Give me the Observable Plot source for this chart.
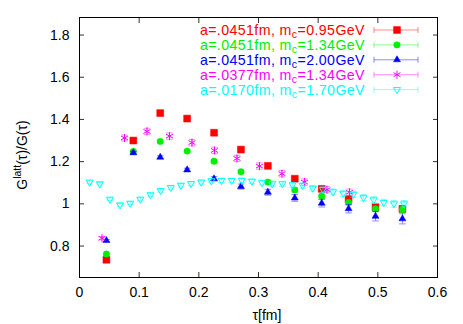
<!DOCTYPE html>
<html><head><meta charset="utf-8">
<script src="https://cdn.jsdelivr.net/npm/d3@7"></script>
<script src="https://cdn.jsdelivr.net/npm/@observablehq/plot@0.6"></script>
<style>html,body{margin:0;padding:0;background:#fff}svg{display:block}</style>
</head><body><div id="chart"></div>
<script>
// ---- data ----
const xTicks = [0, 0.1, 0.2, 0.3, 0.4, 0.5, 0.6];
const yTicks = [0.8, 1.0, 1.2, 1.4, 1.6, 1.8];
const xTickLabels = ["0", "0.1", "0.2", "0.3", "0.4", "0.5", "0.6"];
const yTickLabels = ["0.8", "1", "1.2", "1.4", "1.6", "1.8"];

const tau0451 = [0.0451,0.0902,0.1353,0.1804,0.2255,0.2706,0.3157,0.3608,0.4059,0.4510,0.4961,0.5412];
const ratioM095 = [0.735,1.300,1.430,1.404,1.337,1.257,1.180,1.119,1.071,1.022,0.984,0.976];
const errM095   = [0.004,0.005,0.006,0.006,0.007,0.008,0.009,0.010,0.011,0.012,0.013,0.014];
const ratioM134 = [0.762,1.248,1.296,1.250,1.202,1.152,1.103,1.066,1.036,1.006,0.976,0.973];
const errM134   = [0.004,0.005,0.006,0.006,0.007,0.008,0.009,0.010,0.011,0.012,0.013,0.014];
const ratioM200 = [0.826,1.242,1.221,1.161,1.119,1.082,1.055,1.028,1.003,0.977,0.941,0.929];
const errM200   = [0.005,0.006,0.007,0.008,0.010,0.012,0.014,0.016,0.018,0.020,0.022,0.024];

const tau0377 = [0.0377,0.0754,0.1131,0.1508,0.1885,0.2262,0.2639,0.3016,0.3393,0.3770,0.4147,0.4524];
const ratioA0377 = [0.837,1.312,1.343,1.321,1.290,1.253,1.215,1.179,1.143,1.103,1.067,1.055];
const errA0377   = [0.008,0.014,0.015,0.015,0.015,0.015,0.015,0.015,0.015,0.015,0.015,0.015];

const tau0170 = [0.017,0.034,0.051,0.068,0.085,0.102,0.119,0.136,0.153,0.170,0.187,0.204,0.221,0.238,0.255,0.272,
                 0.289,0.306,0.323,0.340,0.357,0.374,0.391,0.408,0.425,0.442,0.459,0.476,0.493,0.510,0.527,0.544];
const ratioA0170 = [1.103,1.095,1.022,0.995,1.003,1.022,1.043,1.063,1.077,1.088,1.096,1.103,1.109,1.111,1.111,1.111,
                    1.107,1.100,1.095,1.095,1.090,1.087,1.074,1.068,1.057,1.050,1.045,1.029,1.019,1.006,1.000,1.000];
const errA0170   = [0.006,0.006,0.006,0.007,0.007,0.007,0.008,0.008,0.008,0.009,0.009,0.009,0.010,0.010,0.010,0.011,
                    0.011,0.011,0.012,0.012,0.012,0.013,0.013,0.013,0.014,0.014,0.014,0.015,0.015,0.015,0.016,0.016];

const seriesNames = ["a=.0451fm, m", "a=.0451fm, m", "a=.0451fm, m", "a=.0377fm, m", "a=.0170fm, m"];
const seriesMasses = ["=0.95GeV", "=1.34GeV", "=2.00GeV", "=1.34GeV", "=1.70GeV"];
const seriesColors = ["#ff0000", "#00f000", "#0000ff", "#ff00ff", "#00ffff"];

// ---- build ----
const zip = (t, v, e) => t.map((x, i) => ({tau: x, v: v[i], e: e[i]}));
const series = [
  {data: zip(tau0451, ratioM095, errM095), symbol: "square", fill: true, r: 3.9, rotate: 0},
  {data: zip(tau0451, ratioM134, errM134), symbol: "circle", fill: true, r: 3.2, rotate: 0},
  {data: zip(tau0451, ratioM200, errM200), symbol: "triangle", fill: true, r: 2.6, rotate: 0},
  {data: zip(tau0377, ratioA0377, errA0377), symbol: "asterisk", fill: false, r: 3.8, rotate: 0},
  {data: zip(tau0170, ratioA0170, errA0170), symbol: "triangle", fill: false, r: 2.6, rotate: 180}
];
series.forEach((s, i) => s.color = seriesColors[i]);

const capSymbol = {draw(ctx, size) { const r = Math.sqrt(size / Math.PI); ctx.moveTo(-r, 0); ctx.lineTo(r, 0); }};

const marks = [];
for (const s of series) {
  marks.push(Plot.ruleX(s.data, {x: "tau", y1: d => d.v - d.e, y2: d => d.v + d.e, stroke: s.color, strokeOpacity: 0.45, strokeWidth: 1}));
  marks.push(Plot.dot(s.data, {x: "tau", y: d => d.v - d.e, symbol: capSymbol, r: 3.3, stroke: s.color, strokeOpacity: 0.45, strokeWidth: 1}));
  marks.push(Plot.dot(s.data, {x: "tau", y: d => d.v + d.e, symbol: capSymbol, r: 3.3, stroke: s.color, strokeOpacity: 0.45, strokeWidth: 1}));
  marks.push(Plot.dot(s.data, {x: "tau", y: "v", symbol: s.symbol, r: s.r, rotate: s.rotate,
    fill: s.fill ? s.color : "none", stroke: s.color, strokeWidth: s.fill ? 0.5 : 1}));
}

const chart = Plot.plot({
  width: 463, height: 324,
  marginLeft: 79, marginRight: 26, marginTop: 17, marginBottom: 47,
  style: {fontFamily: "'Liberation Sans', Arial, sans-serif", fontSize: "14px", background: "#fff", color: "#000"},
  x: {domain: [0, 0.6], ticks: xTicks},
  y: {domain: [0.651, 1.883], ticks: yTicks},
  marks: [
    Plot.axisX({anchor: "bottom", ticks: xTicks, tickSize: 0, tickPadding: 10, tickFormat: (d, i) => xTickLabels[i], label: null, fontSize: 14}),
    Plot.axisX({anchor: "bottom", ticks: xTicks, tickSize: -5, tickFormat: () => "", label: null, stroke: "#333"}),
    Plot.axisX({anchor: "top", ticks: xTicks, tickSize: -5, tickFormat: () => "", label: null, stroke: "#333"}),
    Plot.axisY({anchor: "left", ticks: yTicks, tickSize: 0, tickPadding: 10, tickFormat: (d, i) => yTickLabels[i], label: null, fontSize: 14}),
    Plot.axisY({anchor: "left", ticks: yTicks, tickSize: -5, tickFormat: () => "", label: null, stroke: "#333"}),
    Plot.axisY({anchor: "right", ticks: yTicks, tickSize: -5, tickFormat: () => "", label: null, stroke: "#333"}),
    ...marks,
    Plot.frame({stroke: "#000", strokeWidth: 1})
  ]
});

const svg = d3.select(chart);
const font = "'Liberation Sans', Arial, sans-serif";

// y-axis label
const yl = svg.append("text").attr("transform", "translate(27,155) rotate(-90)")
  .attr("text-anchor", "middle").attr("font-family", font).attr("font-size", 14).attr("fill", "#000");
yl.append("tspan").text("G");
yl.append("tspan").attr("dy", -6).attr("font-size", 10.5).text("latt");
yl.append("tspan").attr("dy", 6).text("(τ)/G(τ)");

// x-axis label
svg.append("text").attr("x", 267).attr("y", 320).attr("text-anchor", "middle")
  .attr("font-family", font).attr("font-size", 14).attr("fill", "#000").text("τ[fm]");

// legend
const leg = svg.append("g");
series.forEach((s, i) => {
  const cy = 30 + 14.9 * i;
  const t = leg.append("text").attr("x", 365).attr("y", cy + 5).attr("text-anchor", "end")
    .attr("font-family", font).attr("font-size", 14.2).attr("letter-spacing", 0.4).attr("fill", s.color);
  t.append("tspan").text(seriesNames[i]);
  t.append("tspan").attr("dy", 3).attr("font-size", 10.5).text("c");
  t.append("tspan").attr("dy", -3).text(seriesMasses[i]);
  const g = leg.append("g").attr("stroke", s.color).attr("stroke-opacity", 0.45);
  g.append("line").attr("x1", 374).attr("x2", 418).attr("y1", cy).attr("y2", cy);
  g.append("line").attr("x1", 374).attr("x2", 374).attr("y1", cy - 3).attr("y2", cy + 3);
  g.append("line").attr("x1", 418).attr("x2", 418).attr("y1", cy - 3).attr("y2", cy + 3);
  const sym = {square: d3.symbolSquare, circle: d3.symbolCircle, triangle: d3.symbolTriangle, asterisk: d3.symbolAsterisk}[s.symbol];
  leg.append("path").attr("d", d3.symbol(sym, Math.PI * s.r * s.r)())
    .attr("transform", `translate(397,${cy}) rotate(${s.rotate})`)
    .attr("fill", s.fill ? s.color : "none").attr("stroke", s.color).attr("stroke-width", s.fill ? 0.5 : 1);
});

document.getElementById("chart").appendChild(chart);
</script>
</body></html>
